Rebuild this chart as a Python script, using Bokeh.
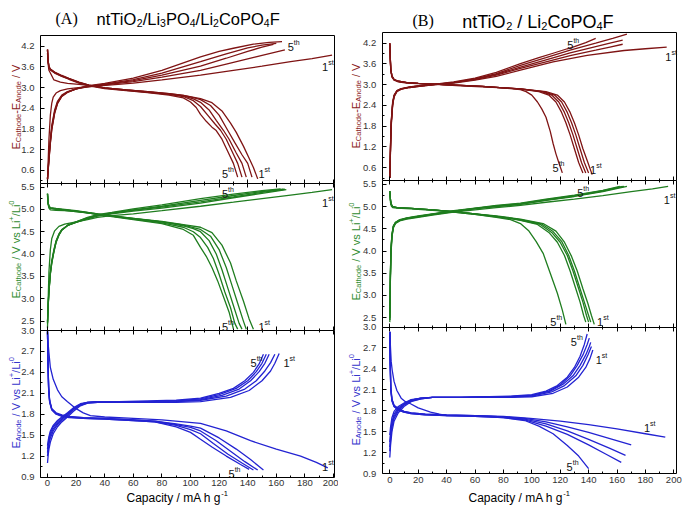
import math
from bokeh.plotting import figure
from bokeh.layouts import row
from bokeh.models import Range1d, LinearAxis, FixedTicker, PrintfTickFormatter, Label
from bokeh.embed import file_html
from bokeh.resources import INLINE

# ---------------- ticks ----------------
X_TICKS = [0, 20, 40, 60, 80, 100, 120, 140, 160, 180, 200]
X_MINOR = [10, 30, 50, 70, 90, 110, 130, 150, 170, 190]
CELL_TICKS = [0.6, 1.2, 1.8, 2.4, 3.0, 3.6, 4.2]
CELL_MINOR = [0.3, 0.9, 1.5, 2.1, 2.7, 3.3, 3.9]
CATH_TICKS = [2.5, 3.0, 3.5, 4.0, 4.5, 5.0, 5.5]
CATH_MINOR = [2.75, 3.25, 3.75, 4.25, 4.75, 5.25]
AN_TICKS = [0.9, 1.2, 1.5, 1.8, 2.1, 2.4, 2.7, 3.0]
AN_MINOR = [1.05, 1.35, 1.65, 1.95, 2.25, 2.55, 2.85]
CELL_LIM = (0.23, 4.51)
CATH_LIM = (2.29, 5.59)
AN_LIM = (0.9, 3.0)

# ---------------- data: (A) ntTiO2/Li3PO4/Li2CoPO4F ----------------
A_CELL_CHG = [
    ([0, 0.5, 1, 2, 3, 4, 6, 9, 14, 20, 30, 45, 60, 80, 107, 130, 150, 170, 185, 199],
     [0.3, 0.9, 1.5, 2.2, 2.55, 2.72, 2.84, 2.91, 2.96, 2.99, 3.03, 3.08, 3.13, 3.22, 3.36, 3.5, 3.62, 3.75, 3.84, 3.94]),
    ([0, 1, 2, 3, 5, 7, 10, 14, 20, 28, 40, 60, 80, 107, 125, 145, 166],
     [0.35, 1.0, 1.5, 1.9, 2.35, 2.6, 2.78, 2.88, 2.96, 3.02, 3.08, 3.17, 3.3, 3.5, 3.68, 3.88, 4.09]),
    ([0, 1, 2, 3, 5, 7, 10, 14, 20, 28, 40, 60, 80, 107, 125, 140, 150, 158],
     [0.35, 0.95, 1.45, 1.85, 2.3, 2.57, 2.76, 2.87, 2.96, 3.03, 3.09, 3.2, 3.36, 3.62, 3.85, 4.05, 4.17, 4.25]),
    ([0, 1, 2, 3, 5, 7, 10, 14, 20, 28, 40, 60, 80, 107, 125, 140, 150, 160],
     [0.35, 0.9, 1.4, 1.8, 2.27, 2.55, 2.75, 2.87, 2.96, 3.04, 3.1, 3.23, 3.42, 3.75, 3.98, 4.15, 4.23, 4.28]),
    ([0, 1, 2, 3, 5, 7, 10, 14, 20, 28, 40, 60, 80, 107, 120, 130, 144, 155, 164],
     [0.35, 0.88, 1.38, 1.78, 2.25, 2.53, 2.74, 2.86, 2.96, 3.05, 3.12, 3.27, 3.5, 3.89, 4.05, 4.14, 4.26, 4.31, 4.33]),
]
A_CELL_DIS = [
    ([0, 0.4, 1, 2, 4.5, 9, 14, 22, 29, 40, 55, 70, 85, 95, 107, 115, 122, 128, 132, 137, 141, 144, 147],
     [4.0, 3.7, 3.5, 3.42, 3.22, 3.16, 3.12, 3.09, 3.06, 2.99, 2.93, 2.88, 2.82, 2.77, 2.68, 2.56, 2.32, 1.97, 1.7, 1.3, 0.95, 0.68, 0.35]),
    ([0, 0.4, 1, 2, 5, 10, 15, 22, 29, 40, 55, 70, 85, 95, 102, 107, 114, 120, 126, 131, 136, 140, 143],
     [4.1, 3.8, 3.62, 3.54, 3.45, 3.35, 3.27, 3.16, 3.07, 2.99, 2.93, 2.88, 2.82, 2.77, 2.71, 2.65, 2.48, 2.2, 1.76, 1.4, 1.05, 0.8, 0.4]),
    ([0, 0.4, 1, 2, 5, 10, 15, 22, 29, 40, 55, 70, 85, 95, 102, 107, 113, 118, 123, 127, 132, 136, 139],
     [4.1, 3.79, 3.6, 3.53, 3.44, 3.34, 3.26, 3.15, 3.07, 2.99, 2.93, 2.87, 2.81, 2.76, 2.67, 2.57, 2.35, 2.05, 1.76, 1.5, 1.1, 0.8, 0.4]),
    ([0, 0.4, 1, 2, 5, 10, 15, 22, 29, 40, 55, 70, 85, 95, 102, 107, 112, 117, 121, 125, 129, 133, 136],
     [4.1, 3.78, 3.59, 3.52, 3.43, 3.33, 3.25, 3.14, 3.06, 2.98, 2.92, 2.86, 2.8, 2.74, 2.62, 2.45, 2.2, 1.95, 1.76, 1.5, 1.15, 0.8, 0.4]),
    ([0, 0.4, 1, 2, 5, 10, 15, 22, 29, 40, 55, 70, 85, 95, 100, 104, 107, 111, 115, 118, 122, 126, 130, 133],
     [4.1, 3.77, 3.58, 3.51, 3.42, 3.32, 3.24, 3.13, 3.05, 2.97, 2.91, 2.85, 2.78, 2.7, 2.58, 2.42, 2.22, 2.02, 1.85, 1.75, 1.5, 1.15, 0.8, 0.4]),
]
A_CATH_CHG = [
    ([0, 0.5, 1, 2, 3, 5, 8, 12, 20, 28, 35, 45, 60, 80, 107, 130, 150, 170, 185, 199],
     [2.35, 3.0, 3.6, 4.1, 4.35, 4.52, 4.62, 4.67, 4.72, 4.77, 4.82, 4.86, 4.9, 4.97, 5.07, 5.16, 5.24, 5.32, 5.38, 5.44]),
    ([0, 0.5, 1, 2, 3, 4.5, 6, 8, 10, 14, 20, 28, 35, 45, 60, 80, 107, 130, 150, 167],
     [2.45, 2.9, 3.2, 3.6, 3.85, 4.1, 4.3, 4.45, 4.55, 4.64, 4.71, 4.79, 4.85, 4.9, 4.96, 5.03, 5.14, 5.26, 5.36, 5.44]),
    ([0, 0.5, 1, 2, 3, 4.5, 6, 8, 10, 14, 20, 28, 35, 45, 60, 80, 107, 130, 150, 166],
     [2.45, 2.88, 3.18, 3.58, 3.83, 4.08, 4.28, 4.44, 4.54, 4.64, 4.71, 4.8, 4.86, 4.91, 4.98, 5.05, 5.17, 5.28, 5.38, 5.45]),
    ([0, 0.5, 1, 2, 3, 4.5, 6, 8, 10, 14, 20, 28, 35, 45, 60, 80, 107, 130, 150, 165],
     [2.48, 2.86, 3.16, 3.56, 3.81, 4.06, 4.27, 4.43, 4.54, 4.64, 4.72, 4.81, 4.87, 4.92, 4.99, 5.07, 5.2, 5.31, 5.4, 5.45]),
    ([0, 0.5, 1, 2, 3, 4.5, 6, 8, 10, 14, 20, 28, 35, 45, 60, 80, 107, 130, 150, 163],
     [2.5, 2.85, 3.15, 3.55, 3.8, 4.05, 4.26, 4.42, 4.53, 4.64, 4.72, 4.82, 4.88, 4.93, 5.01, 5.1, 5.24, 5.34, 5.42, 5.46]),
]
A_CATH_DIS = [
    ([0, 0.4, 1, 2, 6, 12, 20, 28, 35, 45, 60, 80, 95, 107, 115, 122, 128, 132, 137, 141, 144],
     [5.3, 5.12, 5.03, 4.99, 4.98, 4.97, 4.95, 4.92, 4.89, 4.85, 4.8, 4.73, 4.66, 4.6, 4.48, 4.2, 3.8, 3.4, 2.95, 2.55, 2.32]),
    ([0, 0.4, 1, 2, 6, 12, 20, 28, 35, 45, 60, 80, 95, 107, 114, 120, 125, 129, 133, 137, 139],
     [5.35, 5.15, 5.08, 5.04, 5.02, 5.0, 4.97, 4.93, 4.9, 4.86, 4.8, 4.72, 4.65, 4.55, 4.4, 4.1, 3.7, 3.3, 2.9, 2.5, 2.32]),
    ([0, 0.4, 1, 2, 6, 12, 20, 28, 35, 45, 60, 80, 95, 102, 107, 113, 118, 122, 126, 130, 134, 136],
     [5.35, 5.15, 5.07, 5.03, 5.01, 4.99, 4.96, 4.93, 4.9, 4.85, 4.79, 4.72, 4.63, 4.57, 4.5, 4.3, 4.0, 3.65, 3.25, 2.85, 2.45, 2.32]),
    ([0, 0.4, 1, 2, 6, 12, 20, 28, 35, 45, 60, 80, 95, 102, 107, 112, 116, 120, 124, 128, 131, 133],
     [5.35, 5.14, 5.06, 5.03, 5.01, 4.99, 4.96, 4.92, 4.89, 4.85, 4.78, 4.7, 4.6, 4.5, 4.37, 4.15, 3.9, 3.55, 3.15, 2.8, 2.45, 2.32]),
    ([0, 0.4, 1, 2, 6, 12, 20, 28, 35, 45, 60, 80, 95, 102, 107, 111, 115, 119, 123, 127, 130],
     [5.35, 5.14, 5.06, 5.02, 5.0, 4.98, 4.95, 4.92, 4.89, 4.84, 4.77, 4.68, 4.55, 4.42, 4.15, 3.95, 3.7, 3.4, 3.05, 2.7, 2.33]),
]
A_AN_RISE = [
    ([0, 0.5, 1, 2, 4, 7, 10, 14, 18, 23, 28, 35, 50, 70, 90, 107, 128, 141, 150, 156, 159, 162],
     [1.1, 1.22, 1.3, 1.4, 1.52, 1.62, 1.69, 1.76, 1.84, 1.92, 1.96, 1.97, 1.97, 1.97, 1.97, 1.98, 2.04, 2.14, 2.28, 2.42, 2.53, 2.67]),
    ([0, 0.5, 1, 2, 4, 7, 10, 14, 18, 23, 28, 35, 50, 70, 90, 107, 125, 138, 146, 152, 156, 159],
     [1.2, 1.3, 1.37, 1.46, 1.56, 1.65, 1.71, 1.78, 1.86, 1.93, 1.96, 1.97, 1.97, 1.97, 1.98, 2.0, 2.06, 2.16, 2.28, 2.42, 2.54, 2.66]),
    ([0, 0.5, 1, 2, 4, 7, 10, 14, 18, 23, 28, 35, 50, 70, 90, 107, 122, 134, 142, 148, 152, 155],
     [1.25, 1.34, 1.41, 1.5, 1.59, 1.67, 1.73, 1.8, 1.87, 1.94, 1.97, 1.98, 1.97, 1.97, 1.98, 2.01, 2.07, 2.16, 2.28, 2.41, 2.53, 2.66]),
    ([0, 0.5, 1, 2, 4, 7, 10, 14, 18, 23, 28, 35, 50, 70, 90, 107, 120, 132, 140, 146, 150, 153],
     [1.3, 1.38, 1.45, 1.53, 1.62, 1.69, 1.75, 1.81, 1.88, 1.94, 1.97, 1.98, 1.98, 1.98, 1.99, 2.02, 2.08, 2.17, 2.28, 2.41, 2.53, 2.66]),
    ([0, 0.5, 1, 2, 4, 7, 10, 14, 18, 23, 28, 35, 50, 70, 90, 107, 120, 130, 138, 144, 148, 151],
     [1.35, 1.42, 1.48, 1.56, 1.64, 1.71, 1.76, 1.82, 1.89, 1.95, 1.97, 1.98, 1.98, 1.99, 2.0, 2.03, 2.1, 2.17, 2.28, 2.4, 2.52, 2.66]),
]
A_AN_FALL = [
    ([0, 0.5, 1, 2, 4, 7, 10, 14, 20, 25, 30, 40, 60, 80, 107, 125, 142, 160, 177, 188, 196],
     [2.97, 2.8, 2.68, 2.47, 2.3, 2.15, 2.05, 1.98, 1.88, 1.82, 1.78, 1.76, 1.74, 1.72, 1.67, 1.56, 1.42, 1.3, 1.2, 1.11, 1.03]),
    ([0, 0.3, 0.8, 1.5, 3, 6, 10, 15, 25, 40, 60, 75, 90, 100, 107, 120, 132, 142, 151],
     [2.99, 2.6, 2.2, 2.0, 1.88, 1.82, 1.79, 1.77, 1.75, 1.74, 1.72, 1.7, 1.66, 1.63, 1.6, 1.46, 1.3, 1.15, 1.0]),
    ([0, 0.3, 0.8, 1.5, 3, 6, 10, 15, 25, 40, 60, 75, 90, 100, 107, 118, 128, 138, 147],
     [2.99, 2.58, 2.18, 1.99, 1.87, 1.81, 1.78, 1.76, 1.75, 1.74, 1.72, 1.7, 1.65, 1.61, 1.56, 1.42, 1.27, 1.12, 1.0]),
    ([0, 0.3, 0.8, 1.5, 3, 6, 10, 15, 25, 40, 60, 75, 90, 100, 107, 116, 126, 136, 144],
     [2.99, 2.56, 2.16, 1.98, 1.87, 1.81, 1.78, 1.76, 1.74, 1.73, 1.71, 1.69, 1.64, 1.58, 1.52, 1.38, 1.23, 1.1, 1.0]),
    ([0, 0.3, 0.8, 1.5, 3, 6, 10, 15, 25, 40, 60, 75, 90, 100, 107, 115, 125, 135, 141],
     [2.99, 2.55, 2.15, 1.97, 1.86, 1.8, 1.77, 1.75, 1.74, 1.73, 1.71, 1.69, 1.62, 1.54, 1.44, 1.33, 1.2, 1.08, 1.01]),
]

# ---------------- data: (B) ntTiO2 / Li2CoPO4F ----------------
B_CELL_CHG = [
    ([0, 0.5, 1, 2, 3, 5, 8, 14, 22, 32, 45, 60, 75, 92, 115, 139, 165, 180, 195],
     [0.3, 1.1, 1.8, 2.4, 2.65, 2.8, 2.87, 2.92, 2.96, 3.0, 3.05, 3.13, 3.24, 3.42, 3.66, 3.85, 3.99, 4.04, 4.09]),
    ([0, 0.5, 1, 2, 3, 5, 8, 14, 22, 32, 45, 60, 75, 92, 110, 127, 145, 157, 167],
     [0.3, 1.2, 1.9, 2.45, 2.68, 2.82, 2.88, 2.93, 2.97, 3.01, 3.07, 3.17, 3.32, 3.56, 3.78, 4.0, 4.2, 4.34, 4.46]),
    ([0, 0.5, 1, 2, 3, 5, 8, 14, 22, 32, 45, 60, 75, 92, 110, 127, 145, 155, 164],
     [0.3, 1.2, 1.9, 2.45, 2.68, 2.82, 2.88, 2.93, 2.97, 3.01, 3.06, 3.16, 3.3, 3.51, 3.72, 3.92, 4.1, 4.2, 4.29]),
    ([0, 0.5, 1, 2, 3, 5, 8, 14, 22, 32, 45, 60, 75, 92, 110, 127, 145, 155, 164],
     [0.3, 1.15, 1.85, 2.42, 2.66, 2.81, 2.87, 2.92, 2.96, 3.0, 3.06, 3.15, 3.28, 3.47, 3.66, 3.84, 4.0, 4.09, 4.17]),
    ([0, 0.5, 1, 2, 3, 5, 8, 14, 22, 32, 45, 60, 75, 92, 105, 115, 125, 130, 138, 145],
     [0.3, 1.25, 1.95, 2.5, 2.7, 2.83, 2.89, 2.94, 2.98, 3.02, 3.08, 3.19, 3.36, 3.61, 3.78, 3.91, 4.04, 4.1, 4.22, 4.34]),
]
B_CELL_DIS = [
    ([0, 0.3, 0.7, 1.5, 3, 6, 12, 20, 35, 50, 65, 80, 92, 110, 118, 123, 127, 130, 133, 136, 139.5, 142.5],
     [4.15, 3.75, 3.4, 3.22, 3.13, 3.08, 3.05, 3.03, 3.0, 2.97, 2.94, 2.91, 2.88, 2.8, 2.7, 2.5, 2.2, 1.9, 1.55, 1.15, 0.75, 0.4]),
    ([0, 0.3, 0.7, 1.5, 3, 6, 12, 20, 35, 50, 65, 80, 92, 108, 116, 121, 125, 128, 131, 134, 137, 140],
     [4.2, 3.8, 3.45, 3.25, 3.15, 3.1, 3.06, 3.04, 3.01, 2.98, 2.95, 2.91, 2.88, 2.8, 2.7, 2.5, 2.2, 1.9, 1.55, 1.15, 0.75, 0.45]),
    ([0, 0.3, 0.7, 1.5, 3, 6, 12, 20, 35, 50, 65, 80, 92, 107, 114, 119, 123, 126, 129, 132, 135, 138],
     [4.2, 3.8, 3.45, 3.25, 3.15, 3.1, 3.06, 3.04, 3.01, 2.98, 2.95, 2.91, 2.88, 2.8, 2.7, 2.5, 2.2, 1.9, 1.55, 1.15, 0.75, 0.45]),
    ([0, 0.3, 0.7, 1.5, 3, 6, 12, 20, 35, 50, 65, 80, 92, 105, 112, 117, 121, 124, 127, 130, 133, 136],
     [4.2, 3.8, 3.45, 3.25, 3.15, 3.1, 3.06, 3.04, 3.01, 2.98, 2.95, 2.91, 2.87, 2.8, 2.7, 2.5, 2.2, 1.9, 1.55, 1.15, 0.75, 0.45]),
    ([0, 0.3, 0.7, 1.5, 3, 6, 12, 20, 35, 50, 65, 80, 92, 96, 100, 104, 107, 110, 113, 115, 117, 119, 121.5],
     [4.2, 3.8, 3.45, 3.25, 3.15, 3.1, 3.06, 3.04, 3.01, 2.98, 2.95, 2.91, 2.86, 2.8, 2.7, 2.5, 2.3, 2.06, 1.65, 1.3, 1.0, 0.75, 0.45]),
]
B_CATH_CHG = [
    ([0, 0.4, 0.8, 1.5, 2.5, 4, 7, 12, 20, 30, 45, 60, 75, 92, 110, 130, 150, 170, 185, 196],
     [2.4, 3.3, 3.9, 4.3, 4.52, 4.62, 4.68, 4.72, 4.76, 4.81, 4.88, 4.93, 4.98, 5.03, 5.1, 5.17, 5.25, 5.34, 5.4, 5.46]),
    ([0, 0.4, 0.8, 1.5, 2.5, 4, 7, 12, 20, 30, 45, 60, 75, 92, 110, 130, 150, 167],
     [2.45, 3.35, 3.95, 4.33, 4.54, 4.63, 4.69, 4.73, 4.77, 4.82, 4.89, 4.95, 5.0, 5.05, 5.14, 5.23, 5.34, 5.46]),
    ([0, 0.4, 0.8, 1.5, 2.5, 4, 7, 12, 20, 30, 45, 60, 75, 92, 110, 130, 150, 165],
     [2.45, 3.4, 4.0, 4.35, 4.55, 4.64, 4.7, 4.74, 4.78, 4.83, 4.9, 4.96, 5.01, 5.06, 5.15, 5.24, 5.35, 5.46]),
    ([0, 0.4, 0.8, 1.5, 2.5, 4, 7, 12, 20, 30, 45, 60, 75, 92, 110, 130, 150, 164],
     [2.5, 3.42, 4.02, 4.36, 4.56, 4.64, 4.7, 4.74, 4.78, 4.83, 4.9, 4.96, 5.02, 5.07, 5.16, 5.25, 5.36, 5.46]),
    ([0, 0.4, 0.8, 1.5, 2.5, 4, 7, 12, 20, 30, 45, 60, 75, 92, 110, 130, 150, 162],
     [2.5, 3.45, 4.05, 4.38, 4.57, 4.65, 4.71, 4.75, 4.79, 4.84, 4.91, 4.97, 5.03, 5.08, 5.17, 5.26, 5.37, 5.46]),
]
B_CATH_DIS = [
    ([0, 0.5, 1, 2, 5, 15, 30, 45, 60, 75, 85, 92, 108, 117, 123, 128, 132, 136, 139.5, 142, 144],
     [5.3, 5.1, 5.02, 4.98, 4.97, 4.95, 4.92, 4.89, 4.84, 4.79, 4.75, 4.72, 4.62, 4.45, 4.2, 3.88, 3.55, 3.15, 2.82, 2.55, 2.35]),
    ([0, 0.5, 1, 2, 5, 15, 30, 45, 60, 75, 85, 92, 107, 115, 121, 126, 130, 134, 137, 140, 141.5],
     [5.35, 5.15, 5.05, 5.0, 4.98, 4.96, 4.93, 4.89, 4.84, 4.78, 4.74, 4.71, 4.61, 4.44, 4.22, 3.9, 3.55, 3.15, 2.85, 2.55, 2.4]),
    ([0, 0.5, 1, 2, 5, 15, 30, 45, 60, 75, 85, 92, 106, 114, 120, 125, 129, 133, 136, 138.5, 140],
     [5.35, 5.15, 5.05, 5.0, 4.98, 4.96, 4.93, 4.89, 4.84, 4.78, 4.74, 4.7, 4.6, 4.42, 4.2, 3.9, 3.55, 3.15, 2.85, 2.55, 2.4]),
    ([0, 0.5, 1, 2, 5, 15, 30, 45, 60, 75, 85, 92, 104, 112, 118, 123, 127, 131, 134, 136.5, 138],
     [5.35, 5.15, 5.05, 5.0, 4.98, 4.96, 4.93, 4.88, 4.83, 4.77, 4.73, 4.69, 4.6, 4.42, 4.2, 3.9, 3.55, 3.15, 2.85, 2.55, 2.4]),
    ([0, 0.5, 1, 2, 5, 15, 30, 45, 60, 75, 85, 92, 98, 103, 108, 113, 118, 121.5, 124],
     [5.35, 5.15, 5.05, 5.0, 4.98, 4.96, 4.93, 4.88, 4.83, 4.76, 4.71, 4.62, 4.45, 4.22, 3.95, 3.5, 3.05, 2.67, 2.35]),
]
B_AN_RISE = [
    ([0, 0.5, 1.5, 3, 6, 10, 15, 22, 30, 50, 70, 85, 100, 115, 125, 133, 138, 141, 143],
     [1.13, 1.3, 1.5, 1.65, 1.77, 1.86, 1.93, 1.97, 1.99, 1.99, 1.99, 1.99, 2.0, 2.05, 2.14, 2.28, 2.42, 2.55, 2.67]),
    ([0, 0.5, 1.5, 3, 6, 10, 15, 22, 30, 50, 70, 85, 100, 114, 123, 131, 136, 139.5, 142],
     [1.22, 1.38, 1.56, 1.69, 1.8, 1.88, 1.94, 1.97, 1.99, 1.99, 1.99, 2.0, 2.01, 2.07, 2.16, 2.3, 2.45, 2.6, 2.72]),
    ([0, 0.5, 1.5, 3, 6, 10, 15, 22, 30, 50, 70, 85, 100, 113, 122, 129, 134, 138, 140.5, 141.5],
     [1.28, 1.43, 1.6, 1.72, 1.82, 1.89, 1.95, 1.98, 1.99, 1.99, 2.0, 2.0, 2.02, 2.08, 2.18, 2.3, 2.45, 2.6, 2.72, 2.78]),
    ([0, 0.5, 1.5, 3, 6, 10, 15, 22, 30, 50, 70, 85, 100, 112, 120, 127, 132, 136, 139, 140.5],
     [1.35, 1.48, 1.64, 1.75, 1.84, 1.9, 1.95, 1.98, 1.99, 1.99, 2.0, 2.0, 2.02, 2.08, 2.17, 2.3, 2.45, 2.6, 2.75, 2.84]),
    ([0, 0.5, 1.5, 3, 6, 10, 15, 22, 30, 50, 70, 85, 100, 110, 118, 125, 130, 134, 137, 139],
     [1.45, 1.56, 1.7, 1.79, 1.86, 1.91, 1.96, 1.98, 1.99, 1.99, 2.0, 2.01, 2.03, 2.08, 2.16, 2.28, 2.42, 2.58, 2.75, 2.9]),
]
B_AN_FALL = [
    ([0, 0.5, 1, 1.7, 3, 5, 8, 11, 14.6, 20, 28.7, 35, 40, 60, 80, 99, 120, 140, 160, 180, 194],
     [2.93, 2.7, 2.5, 2.38, 2.22, 2.09, 1.98, 1.93, 1.9, 1.84, 1.78, 1.75, 1.73, 1.73, 1.72, 1.69, 1.65, 1.6, 1.54, 1.47, 1.42]),
    ([0, 0.3, 0.7, 1.5, 3, 6, 10, 15, 25, 40, 60, 80, 95, 110, 125, 140, 155, 170],
     [2.93, 2.5, 2.15, 1.97, 1.88, 1.83, 1.79, 1.77, 1.75, 1.74, 1.73, 1.71, 1.69, 1.64, 1.57, 1.49, 1.4, 1.31]),
    ([0, 0.3, 0.7, 1.5, 3, 6, 10, 15, 25, 40, 60, 80, 95, 110, 125, 140, 155, 166],
     [2.93, 2.48, 2.13, 1.96, 1.87, 1.82, 1.79, 1.77, 1.75, 1.74, 1.73, 1.71, 1.68, 1.61, 1.51, 1.39, 1.26, 1.16]),
    ([0, 0.3, 0.7, 1.5, 3, 6, 10, 15, 25, 40, 60, 80, 95, 110, 125, 140, 152, 163],
     [2.93, 2.46, 2.11, 1.95, 1.86, 1.81, 1.78, 1.76, 1.74, 1.73, 1.72, 1.7, 1.67, 1.58, 1.46, 1.31, 1.18, 1.06]),
    ([0, 0.3, 0.7, 1.5, 3, 6, 10, 15, 25, 40, 60, 80, 95, 105, 115, 125, 133, 140],
     [2.93, 2.45, 2.1, 1.94, 1.86, 1.81, 1.78, 1.76, 1.74, 1.73, 1.72, 1.7, 1.66, 1.58, 1.47, 1.3, 1.15, 0.97]),
]

# cycle annotations: (number, suffix, x, y, band)
A_NOTES = [("5", "th", 168, 4.18, "cell"), ("1", "st", 192, 3.59, "cell"),
           ("5", "th", 122, 0.5, "cell"), ("1", "st", 147.5, 0.5, "cell"),
           ("5", "th", 122, 5.35, "cath"), ("1", "st", 192, 5.15, "cath"),
           ("5", "th", 122, 2.36, "cath"), ("1", "st", 147.5, 2.36, "cath"),
           ("5", "th", 142, 2.54, "default"), ("1", "st", 165, 2.54, "default"),
           ("5", "th", 126.6, 0.95, "default"), ("1", "st", 192, 1.04, "default")]
B_NOTES = [("5", "th", 125, 4.14, "cell"), ("1", "st", 194, 3.8, "cell"),
           ("5", "th", 114.6, 0.58, "cell"), ("1", "st", 141, 0.52, "cell"),
           ("5", "th", 132, 5.31, "cath"), ("1", "st", 193, 5.14, "cath"),
           ("5", "th", 113, 2.4, "cath"), ("1", "st", 146, 2.4, "cath"),
           ("5", "th", 127.5, 2.78, "default"), ("1", "st", 145, 2.52, "default"),
           ("1", "st", 179, 1.55, "default"), ("5", "th", 124.5, 0.99, "default")]

# ---------------- styling ----------------
SANS = "Liberation Sans"
SERIF = "Liberation Serif"
CELL_C, CATH_C, AN_C = "#7f1414", "#1f7d1f", "#2323d2"
CELL_T, CATH_T, AN_T = "#8b1c1c", "#2e8b2e", "#3434cc"
TICK_C = "#333333"
H = 508
NB = "\u00a0"

W = {' ': 278, NB: 278, '-': 333, '/': 278, '+': 584, '(': 333, ')': 333,
     'A': 667, 'B': 667, 'C': 722, 'E': 667, 'F': 611, 'L': 556, 'O': 778, 'P': 667,
     'T': 611, 'V': 667, 'a': 556, 'c': 500, 'd': 556, 'e': 556, 'g': 556, 'h': 556,
     'i': 222, 'm': 833, 'n': 556, 'o': 556, 'p': 556, 'r': 333, 's': 500, 't': 278,
     'v': 500, 'y': 500}


def tw(s, size):
    return sum(W.get(ch, 556) for ch in s) * size / 1000.0


def rich(p, segs, x, y, color, units="screen", angle=0.0, font=SANS, yr="default"):
    adv = 0.0
    for text, size, shift in segs:
        if angle:
            xo, yo = -shift, adv
        else:
            xo, yo = adv, shift
        kw = dict(x=x, y=y, x_units=units, y_units=units, text=text, angle=angle,
                  x_offset=xo, y_offset=yo, text_font=font, text_font_size=f"{size}px",
                  text_color=color, text_align="left", text_baseline="alphabetic")
        if units == "data":
            kw["y_range_name"] = yr
        p.add_layout(Label(**kw))
        adv += tw(text, size)


def build(spec):
    cx0 = spec["cx0"]
    wid = spec["w"]
    x0px = spec["x0px"] - cx0
    ppu = spec["ppu"]
    xl = (spec["box_l"] - spec["x0px"]) / ppu
    xr = (spec["box_r"] - spec["x0px"]) / ppu
    pxs = spec["px"]
    ranges = []
    for i, (lo, hi) in enumerate((CELL_LIM, CATH_LIM, AN_LIM)):
        top, bot = pxs[i], pxs[i + 1]
        s = (hi - lo) / (bot - top)
        ranges.append(Range1d(start=lo - (H - bot) * s, end=hi + top * s))

    p = figure(width=wid, height=H, title=None,
               x_range=Range1d(start=-x0px / ppu, end=(wid - x0px) / ppu), y_range=ranges[2],
               x_axis_location=None, y_axis_location=None,
               output_backend="svg", toolbar_location=None, min_border=0)
    p.min_border_left = 0
    p.min_border_right = 0
    p.min_border_top = 0
    p.min_border_bottom = 0
    p.extra_y_ranges = {"cell": ranges[0], "cath": ranges[1]}
    p.grid.grid_line_color = None
    p.outline_line_color = None
    p.background_fill_color = "white"
    p.border_fill_color = "white"

    line_kw = dict(axis_line_color="black", axis_line_width=1,
                   major_tick_line_color="black", minor_tick_line_color="black")
    # bottom x axis with labels
    xa = LinearAxis(fixed_location=AN_LIM[0], bounds=(xl, xr),
                    ticker=FixedTicker(ticks=X_TICKS, minor_ticks=X_MINOR),
                    major_tick_in=4, major_tick_out=0, minor_tick_in=2, minor_tick_out=0,
                    major_label_standoff=3, major_label_text_font=SANS,
                    major_label_text_font_size="9.5px", major_label_text_color=TICK_C, **line_kw)
    p.add_layout(xa, "below")
    # boundary tick axes between panels
    for name, lim in (("cell", CELL_LIM), ("cath", CATH_LIM)):
        ba = LinearAxis(y_range_name=name, fixed_location=lim[0], bounds=(xl, xr),
                        ticker=FixedTicker(ticks=X_TICKS, minor_ticks=X_MINOR),
                        major_tick_in=4, major_tick_out=4, minor_tick_in=2, minor_tick_out=2,
                        major_label_text_color=None, **line_kw)
        p.add_layout(ba, "above")
    # top frame edge
    ta = LinearAxis(y_range_name="cell", fixed_location=CELL_LIM[1], bounds=(xl, xr),
                    ticker=FixedTicker(ticks=X_TICKS), major_tick_line_color=None,
                    minor_tick_line_color=None, major_label_text_color=None,
                    axis_line_color="black")
    p.add_layout(ta, "above")
    # y axes for each band (+ plain right edge)
    for name, lim, ticks, minor in (("cell", CELL_LIM, CELL_TICKS, CELL_MINOR),
                                    ("cath", CATH_LIM, CATH_TICKS, CATH_MINOR),
                                    ("default", AN_LIM, AN_TICKS, AN_MINOR)):
        ya = LinearAxis(y_range_name=name, fixed_location=xl, bounds=lim,
                        ticker=FixedTicker(ticks=ticks, minor_ticks=minor),
                        formatter=PrintfTickFormatter(format="%.1f"),
                        major_tick_in=4, major_tick_out=0, minor_tick_in=2, minor_tick_out=0,
                        major_label_standoff=6, major_label_text_font=SANS,
                        major_label_text_font_size="9.5px", major_label_text_color=TICK_C, **line_kw)
        p.add_layout(ya, "left")
        ra = LinearAxis(y_range_name=name, fixed_location=xr, bounds=lim,
                        ticker=FixedTicker(ticks=ticks), major_tick_line_color=None,
                        minor_tick_line_color=None, major_label_text_color=None,
                        axis_line_color="black")
        p.add_layout(ra, "right")

    # curves
    for data, color, name in ((spec["cell_chg"], CELL_C, "cell"), (spec["cell_dis"], CELL_C, "cell"),
                              (spec["cath_chg"], CATH_C, "cath"), (spec["cath_dis"], CATH_C, "cath"),
                              (spec["an_rise"], AN_C, "default"), (spec["an_fall"], AN_C, "default")):
        p.multi_line(xs=[c[0] for c in data], ys=[c[1] for c in data],
                     line_color=color, line_width=1.3, y_range_name=name)

    # cycle labels
    for num, suf, x, y, name in spec["notes"]:
        rich(p, [(num, 11, 0), (suf, 7, 4.5)], x, y, "#111111", units="data", yr=name)

    def sx(X):
        return X - cx0

    def sy(Y):
        return H - Y

    # column title
    lx, ly = spec["lab_xy"]
    p.add_layout(Label(x=sx(lx), y=sy(ly), x_units="screen", y_units="screen",
                       text=spec["label"], text_font=SERIF, text_font_size="16px",
                       text_color="black", text_baseline="alphabetic", text_align="left"))
    tx, ty = spec["title_xy"]
    rich(p, spec["title"], sx(tx), sy(ty), "black")

    # y axis titles
    sub = -2.5
    sup = 4.5
    yx = sx(spec["yt_x"])
    rich(p, [("E", 11, 0), ("Cathode", 7.5, sub), ("-E", 11, 0), ("Anode", 7.5, sub), (NB + "/ V", 11, 0)],
         yx, sy(spec["yt"][0]), CELL_T, angle=math.pi / 2)
    rich(p, [("E", 11, 0), ("Cathode", 7.5, sub), (NB + "/ V vs Li", 11, 0), ("+", 7.5, sup),
             ("/Li", 11, 0), ("0", 7.5, sup)],
         yx, sy(spec["yt"][1]), CATH_T, angle=math.pi / 2)
    rich(p, [("E", 11, 0), ("Anode", 7.5, sub), (NB + "/ V vs Li", 11, 0), ("+", 7.5, sup),
             ("/Li", 11, 0), ("0", 7.5, sup)],
         yx, sy(spec["yt"][2]), AN_T, angle=math.pi / 2)
    # x axis title
    xtx, xty = spec["xt_xy"]
    rich(p, [("Capacity / mA h g", 12, 0), ("-1", 7.5, 5)], sx(xtx), sy(xty), "black")
    return p


A_SPEC = dict(cx0=0, w=338, x0px=47, ppu=1.43, box_l=40, box_r=334, px=[35, 182.5, 330, 476.5],
              cell_chg=A_CELL_CHG, cell_dis=A_CELL_DIS, cath_chg=A_CATH_CHG, cath_dis=A_CATH_DIS,
              an_rise=A_AN_RISE, an_fall=A_AN_FALL, notes=A_NOTES,
              label="(A)", lab_xy=(55, 18),
              title=[("ntTiO", 16.5, 0), ("2", 10.5, -4), ("/Li", 16.5, 0), ("3", 10.5, -4),
                     ("PO", 16.5, 0), ("4", 10.5, -4), ("/Li", 16.5, 0), ("2", 10.5, -4),
                     ("CoPO", 16.5, 0), ("4", 10.5, -4), ("F", 16.5, 0)],
              title_xy=(96, 18), yt_x=15, yt=[149, 298, 448], xt_xy=(126, 497.5))
B_SPEC = dict(cx0=338, w=346, x0px=389.3, ppu=1.42, box_l=381.7, box_r=676, px=[32, 180, 326.5, 473],
              cell_chg=B_CELL_CHG, cell_dis=B_CELL_DIS, cath_chg=B_CATH_CHG, cath_dis=B_CATH_DIS,
              an_rise=B_AN_RISE, an_fall=B_AN_FALL, notes=B_NOTES,
              label="(B)", lab_xy=(412, 19.5),
              title=[("ntTiO", 18, 0), ("2", 11, -4), (NB + "/ Li", 18, 0), ("2", 11, -4),
                     ("CoPO", 18, 0), ("4", 11, -4), ("F", 18, 0)],
              title_xy=(461.7, 21.5), yt_x=355, yt=[148, 300, 445], xt_xy=(468, 497.5))

pa = build(A_SPEC)
pb = build(B_SPEC)
layout = row(pa, pb)
open("out.html", "w").write(file_html(layout, INLINE))
